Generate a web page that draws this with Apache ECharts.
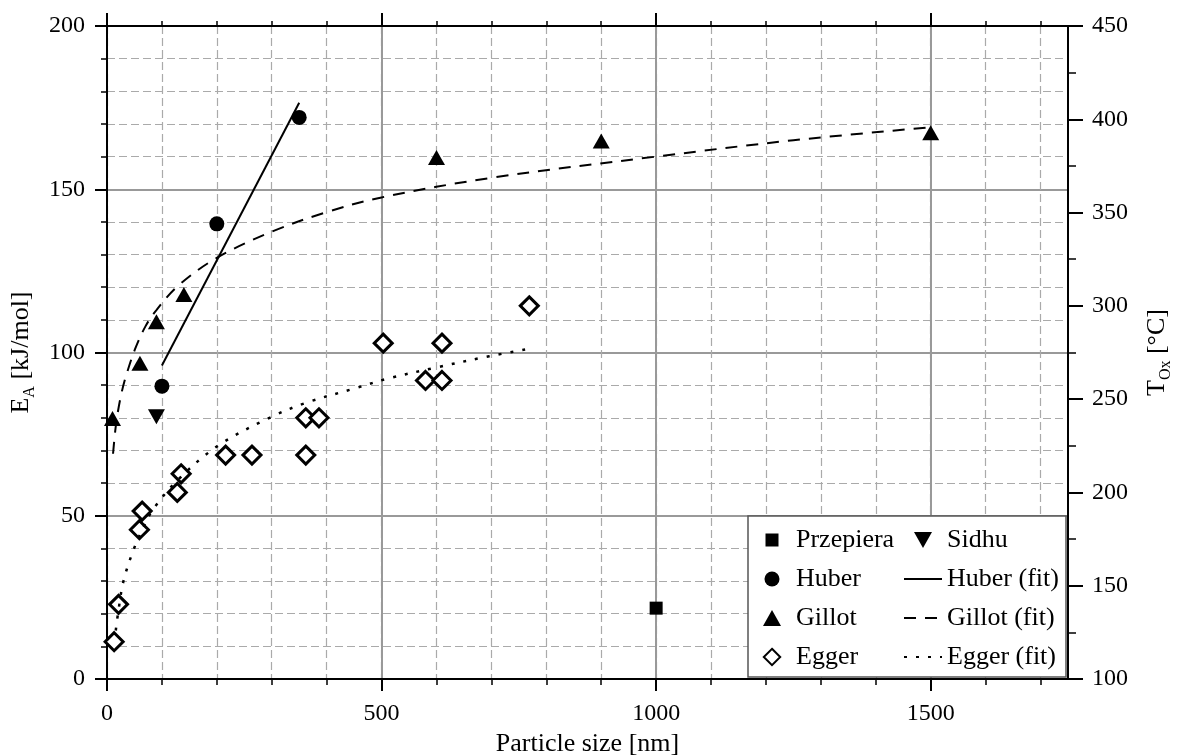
<!DOCTYPE html>
<html>
<head>
<meta charset="utf-8">
<script src="https://cdn.jsdelivr.net/npm/echarts@6/dist/echarts.min.js"></script>
<style>
  html, body { margin: 0; padding: 0; background: #fff; }
  #chart { width: 1183px; height: 755px; }
</style>
</head>
<body>
<div id="chart"></div>
<script>
// data: [particle size nm, value]
const przepiera = [[1000, 21.7]]
const sidhu = [[90, 80.3]]
const huber = [[100, 89.7], [200, 139.4], [350, 172]]
const gillot = [[10, 79.8], [60, 96.7], [90, 109.4], [140, 117.8], [600, 159.7], [900, 164.8], [1500, 167.3]]
// Egger points sit on the T_Ox (right) axis
const egger = [[13, 120], [21, 140], [59, 180], [64, 190], [128, 200], [135, 210], [216, 220], [264, 220],
  [362, 220], [362, 240], [386, 240], [503, 280], [580, 260], [610, 260], [610, 280], [769, 300]]
const huberFit = [[100, 96], [350, 176.5]]
const gillotFit = [[11, 69], [15, 76], [20, 82], [27, 88], [35, 93], [51, 101], [70, 108], [90, 113],
  [130, 120.5], [200, 129], [300, 137], [400, 143], [500, 147.5], [700, 153.5], [1000, 160],
  [1250, 165], [1500, 169]]
const eggerFit = [[16, 126], [20, 135], [30, 152.5], [48, 169], [65, 180.5], [84, 191], [130, 207],
  [202, 225], [296, 240], [362, 248], [454, 256], [511, 261], [600, 267], [696, 273], [769, 277]]
const xMajor = [0, 500, 1000, 1500]
const xMinor = [0, 100, 200, 300, 400, 500, 600, 700, 800, 900, 1000, 1100, 1200, 1300, 1400, 1500, 1600, 1700]

const FONT = '"Liberation Serif", "DejaVu Serif", serif'
const BLACK = '#000'

// legend icons, padded with extra moveTo points so they keep their size in an 18px box
const ICON_SQUARE = 'path://M2.5,2.5L15.5,2.5L15.5,15.5L2.5,15.5Z M0,0 M18,18'
const ICON_CIRCLE = 'path://M1.5,9A7.5,7.5 0 1 1 16.5,9A7.5,7.5 0 1 1 1.5,9Z M0,0 M18,18'
const ICON_UP = 'path://M9,1L18,17L0,17Z M0,0 M18,18'
const ICON_DOWN = 'path://M0,1L18,1L9,17Z M0,0 M18,18'
const ICON_DIAMOND = 'path://M9,0.8L17.2,9L9,17.2L0.8,9Z M0,0 M18,18'

const chart = echarts.init(document.getElementById('chart'))

const baseX = {
  type: 'value',
  min: 0,
  max: 1750,
  axisLine: { show: false, onZero: false },
  axisLabel: { show: false },
  splitLine: { show: false }
}

const legendBase = {
  z: 60,
  orient: 'vertical',
  top: 522,
  itemWidth: 38,
  itemHeight: 18,
  itemGap: 13,
  selectedMode: false,
  textStyle: { fontFamily: FONT, fontSize: 26, color: BLACK, lineHeight: 26 }
}

chart.setOption({
  animation: false,
  backgroundColor: '#fff',
  textStyle: { fontFamily: FONT, color: BLACK },
  grid: { left: 107, right: 115, top: 26, bottom: 76, containLabel: false, outerBoundsMode: 'none' },
  graphic: [{
    type: 'rect',
    z: 50,
    shape: { x: 748, y: 516, width: 318, height: 161 },
    style: { fill: '#fff', stroke: '#555', lineWidth: 1.5 }
  }],
  legend: [{
    ...legendBase,
    left: 757,
    data: [
      { name: 'Przepiera', icon: ICON_SQUARE },
      { name: 'Huber', icon: ICON_CIRCLE },
      { name: 'Gillot', icon: ICON_UP },
      { name: 'Egger', icon: ICON_DIAMOND }
    ]
  }, {
    ...legendBase,
    left: 898,
    data: [
      { name: 'Sidhu', icon: ICON_DOWN },
      { name: 'Huber (fit)', itemStyle: { opacity: 0 } },
      { name: 'Gillot (fit)', itemStyle: { opacity: 0 } },
      { name: 'Egger (fit)', itemStyle: { opacity: 0 } }
    ]
  }],
  xAxis: [{
    // minor ticks + dashed grid
    ...baseX,
    position: 'bottom',
    interval: 100,
    axisLine: { show: true, onZero: false, lineStyle: { color: BLACK, width: 2 } },
    axisTick: { show: true, length: 6, customValues: xMinor, lineStyle: { color: BLACK, width: 1.5 } },
    splitLine: { show: true, lineStyle: { color: '#aaa', width: 1.2, type: [8, 4] } }
  }, {
    // major ticks, labels, solid grid
    ...baseX,
    position: 'bottom',
    interval: 500,
    axisTick: { show: true, length: 12, customValues: xMajor, lineStyle: { color: BLACK, width: 2 } },
    axisLabel: {
      show: true, margin: 23, fontSize: 24, fontFamily: FONT, color: BLACK,
      customValues: xMajor,
      formatter: v => String(v)
    },
    splitLine: { show: true, lineStyle: { color: '#999', width: 2 } },
    name: 'Particle size [nm]',
    nameLocation: 'middle',
    nameGap: 51,
    nameTextStyle: { fontFamily: FONT, fontSize: 26, color: BLACK }
  }, {
    ...baseX,
    position: 'top',
    interval: 100,
    axisLine: { show: true, onZero: false, lineStyle: { color: BLACK, width: 2 } },
    axisTick: { show: true, length: 5, customValues: xMinor, lineStyle: { color: BLACK, width: 1.5 } }
  }, {
    ...baseX,
    position: 'top',
    interval: 500,
    axisTick: { show: true, length: 13, customValues: xMajor, lineStyle: { color: BLACK, width: 2 } }
  }],
  yAxis: [{
    type: 'value',
    position: 'left',
    min: 0,
    max: 200,
    interval: 50,
    axisLine: { show: true, onZero: false, lineStyle: { color: BLACK, width: 2 } },
    axisTick: { show: true, length: 12, lineStyle: { color: BLACK, width: 2 } },
    minorTick: { show: true, splitNumber: 5, length: 6, lineStyle: { color: BLACK, width: 1.5 } },
    axisLabel: { margin: 22, fontSize: 24, fontFamily: FONT, color: BLACK },
    splitLine: { show: true, lineStyle: { color: '#999', width: 2 } },
    minorSplitLine: { show: true, lineStyle: { color: '#aaa', width: 1.2, type: [8, 4] } },
    name: '{m|E}{s|A}{m| [kJ/mol]}',
    nameLocation: 'middle',
    nameRotate: 90,
    nameGap: 66,
    nameTextStyle: {
      fontFamily: FONT, fontSize: 26, color: BLACK,
      rich: {
        m: { fontFamily: FONT, fontSize: 26, lineHeight: 34, color: BLACK },
        s: { fontFamily: FONT, fontSize: 16, lineHeight: 16, verticalAlign: 'bottom', color: BLACK }
      }
    }
  }, {
    type: 'value',
    position: 'right',
    min: 100,
    max: 450,
    interval: 50,
    axisLine: { show: true, onZero: false, lineStyle: { color: BLACK, width: 2 } },
    axisTick: { show: true, length: 15, lineStyle: { color: BLACK, width: 2 } },
    minorTick: { show: true, splitNumber: 2, length: 8, lineStyle: { color: BLACK, width: 1.5 } },
    axisLabel: { margin: 24, fontSize: 24, fontFamily: FONT, color: BLACK },
    splitLine: { show: false },
    name: '{m|T}{s|Ox}{m| [°C]}',
    nameLocation: 'middle',
    nameRotate: 90,
    nameGap: 72,
    nameTextStyle: {
      fontFamily: FONT, fontSize: 26, color: BLACK,
      rich: {
        m: { fontFamily: FONT, fontSize: 26, lineHeight: 34, color: BLACK },
        s: { fontFamily: FONT, fontSize: 16, lineHeight: 16, verticalAlign: 'bottom', color: BLACK }
      }
    }
  }],
  series: [{
    name: 'Przepiera',
    type: 'scatter',
    symbol: 'rect',
    symbolSize: 13,
    itemStyle: { color: BLACK, opacity: 1 },
    data: przepiera
  }, {
    name: 'Sidhu',
    type: 'scatter',
    symbol: 'triangle',
    symbolRotate: 180,
    symbolSize: [17, 15],
    itemStyle: { color: BLACK, opacity: 1 },
    data: sidhu
  }, {
    name: 'Huber',
    type: 'scatter',
    symbol: 'circle',
    symbolSize: 15,
    itemStyle: { color: BLACK, opacity: 1 },
    data: huber
  }, {
    name: 'Gillot',
    type: 'scatter',
    symbol: 'triangle',
    symbolSize: [17, 15],
    itemStyle: { color: BLACK, opacity: 1 },
    data: gillot
  }, {
    name: 'Egger',
    type: 'scatter',
    yAxisIndex: 1,
    symbol: 'diamond',
    symbolSize: 18,
    itemStyle: { color: '#fff', borderColor: BLACK, borderWidth: 3, opacity: 1 },
    data: egger
  }, {
    name: 'Huber (fit)',
    type: 'line',
    symbol: 'none',
    lineStyle: { color: BLACK, width: 2, type: 'solid' },
    itemStyle: { color: BLACK },
    data: huberFit
  }, {
    name: 'Gillot (fit)',
    type: 'line',
    symbol: 'none',
    smooth: 0.35,
    lineStyle: { color: BLACK, width: 2, type: [12, 9] },
    itemStyle: { color: BLACK },
    data: gillotFit
  }, {
    name: 'Egger (fit)',
    type: 'line',
    yAxisIndex: 1,
    symbol: 'none',
    smooth: 0.35,
    lineStyle: { color: BLACK, width: 2.5, type: [3, 9] },
    itemStyle: { color: BLACK },
    data: eggerFit
  }]
})
</script>
</body>
</html>
